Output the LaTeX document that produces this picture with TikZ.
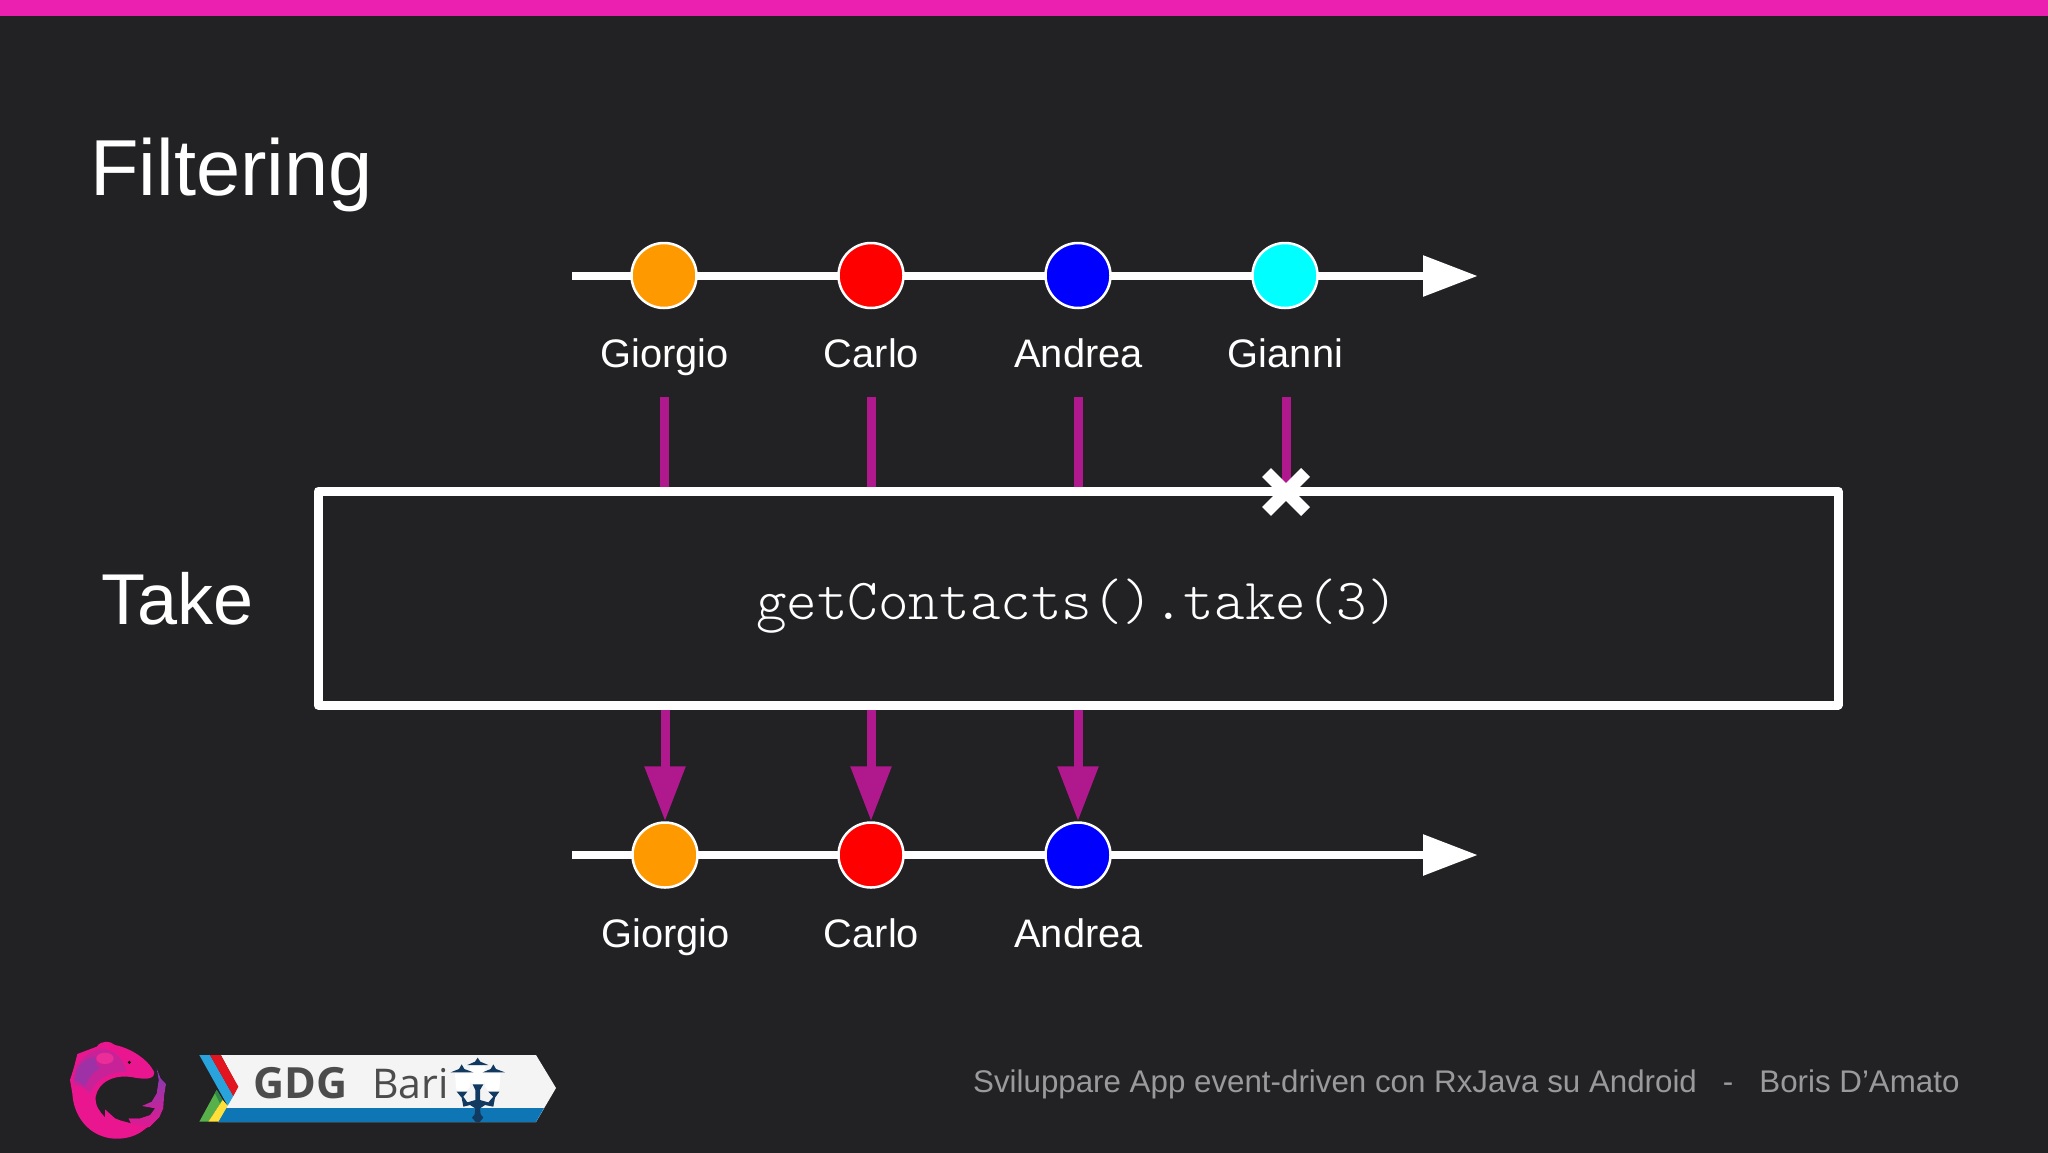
\documentclass[tikz,border=0pt]{standalone}
\usepackage{fontspec}
\setmainfont{Liberation Sans}
\newfontfamily\badgefont{Open Sans}
\usetikzlibrary{arrows.meta,shapes.misc}
\definecolor{slidebg}{HTML}{222124}
\definecolor{slidebar}{HTML}{EB1FB0}
\definecolor{feedpink}{HTML}{B0188E}
\definecolor{footgrey}{HTML}{9A9A9C}
\definecolor{itemorange}{HTML}{FF9900}
\definecolor{itemcyan}{HTML}{00FFFF}
\definecolor{eelpink}{HTML}{E9168F}
\definecolor{eelpurple}{HTML}{7C3FB0}
\definecolor{lampnavy}{HTML}{12395F}
\definecolor{badgeblue}{HTML}{0F76B5}
\definecolor{badgesky}{HTML}{29A3DC}
\definecolor{badgered}{HTML}{E2141F}
\definecolor{badgegreen}{HTML}{57B04A}
\definecolor{badgedark}{HTML}{2E8B47}
\definecolor{badgeyellow}{HTML}{FFE03A}
\tikzset{
	timeline/.style={line width=4.4pt,white,-{Triangle[length=27.5pt,width=19.5pt]}},
	feed/.style={line width=4.5pt,feedpink},
	feedtip/.style={feed,-{Triangle[length=27.5pt,width=19.5pt]}},
	item/.style={circle,draw=white,line width=1.25pt,inner sep=0pt,minimum size=32.5pt},
	namelabel/.style={white,anchor=base,font=\fontsize{19.9}{24}\selectfont},
}

\begin{document}
\begin{tikzpicture}[x=0.5pt,y=-0.5pt]
		\useasboundingbox (0, 0) rectangle (2048, 1152);
		%%%%% SLIDE %%%%%
		\fill[slidebg] (-6, -6) rectangle (2054, 1158);
		\fill[slidebar] (-6, -6) rectangle (2054, 16);
		
		\node[white, anchor=base west, inner sep=0pt, font=\fontsize{39.7}{44}\selectfont] (title) at (90, 195) {Filtering};
		\node[white, anchor=base west, inner sep=0pt, font=\fontsize{36}{40}\selectfont] (opname) at (101, 624) {Take};
		
		%%%%% TOP ROW %%%%%
		\coordinate (topstart) at (572, 276);
		\coordinate (topend) at (1478, 276);
		\draw[timeline] (topstart) -- (topend);
		\node[item, fill=itemorange] (giorgiotop) at (664, 275.5) {};
		\node[item, fill=red] (carlotop) at (871, 275.5) {};
		\node[item, fill=blue] (andreatop) at (1078, 275.5) {};
		\node[item, fill=itemcyan] (giannitop) at (1285, 275.5) {};
		\node[namelabel] (giorgioname) at (664.5, 367.5) {Giorgio};
		\node[namelabel] (carloname) at (871.5, 367.5) {Carlo};
		\node[namelabel] (andreaname) at (1078.5, 367.5) {Andrea};
		\node[namelabel] (gianniname) at (1285.5, 367.5) {Gianni};
		
		%%%%% OPERATOR %%%%%
		\node[draw=white, line width=4.5pt, line join=round, minimum width=760pt, minimum height=107pt] (opbox) at (1078, 598) {};
		\node[white, anchor=base, inner sep=0pt, font=\fontsize{29.1}{32}\fontseries{l}\ttfamily] (opcode) at (1077, 619) {getContacts().take(3)};
		
		\coordinate (stubgiorgio) at (664, 397);
		\coordinate (stubcarlo) at (871, 397);
		\coordinate (stubandrea) at (1078, 397);
		\coordinate (stubgianni) at (1286, 397);
		\coordinate (stopat) at (1286, 492);
		\draw[feed] (stubgiorgio) -- (stubgiorgio |- opbox.north);
		\draw[feed] (stubcarlo) -- (stubcarlo |- opbox.north);
		\draw[feed] (stubandrea) -- (stubandrea |- opbox.north);
		\draw[feed] (stubgianni) -- (stopat);
		\node[cross out, draw=white, line width=6.25pt, inner sep=0pt, minimum size=13.25pt] (stop) at (stopat) {};
		
		%%%%% BOTTOM ROW %%%%%
		\coordinate (botstart) at (572, 855);
		\coordinate (botend) at (1478, 855);
		\draw[timeline] (botstart) -- (botend);
		\node[item, fill=itemorange] (giorgiobot) at (665, 855) {};
		\node[item, fill=red] (carlobot) at (871, 855) {};
		\node[item, fill=blue] (andreabot) at (1078, 855) {};
		\node[namelabel] (giorgioout) at (665.5, 947.5) {Giorgio};
		\node[namelabel] (carloout) at (871.5, 947.5) {Carlo};
		\node[namelabel] (andreaout) at (1078.5, 947.5) {Andrea};
		\draw[feedtip] (opbox.south -| giorgiobot) -- (giorgiobot);
		\draw[feedtip] (opbox.south -| carlobot) -- (carlobot);
		\draw[feedtip] (opbox.south -| andreabot) -- (andreabot);
		
		%%%%% FOOTER %%%%%
		\node[footgrey, anchor=base east, inner sep=0pt, font=\fontsize{15.65}{18}\selectfont] (footer) at (1960, 1092) {Sviluppare App event-driven con RxJava su Android~~~-~~~Boris D’Amato};
		
		%%%%% RX LOGO %%%%%
		\begin{scope}[shift={(60, 1030)}, scale=1/3]
			\fill[top color=eelpurple, middle color=eelpurple!75!eelpink, bottom color=eelpink] (290, 115) -- (302, 145) -- (318, 162) -- (312, 200) -- (310, 235) -- (298, 262) -- (270, 290) -- (225, 305) -- (205, 265) -- (240, 265) -- (270, 255) -- (285, 235) -- (245, 228) -- (275, 215) -- (290, 190) -- (296, 150) -- cycle;
			\fill[eelpink] (110, 50) .. controls (125, 30) and (150, 32) .. (165, 45) .. controls (215, 55) and (265, 90) .. (282, 125) .. controls (285, 145) and (265, 150) .. (225, 143) .. controls (165, 130) and (115, 155) .. (107, 200) .. controls (105, 230) and (120, 245) .. (135, 262) -- (135, 238) -- (165, 265) .. controls (185, 275) and (205, 275) .. (225, 285) -- (262, 290) .. controls (230, 325) and (170, 335) .. (125, 318) .. controls (75, 300) and (40, 250) .. (37, 190) -- (30, 150) -- (42, 112) -- (52, 72) -- cycle;
			\fill[eelpurple, opacity=0.3] (40, 165) -- (44, 120) .. controls (60, 85) and (90, 62) .. (125, 55) .. controls (165, 60) and (190, 85) .. (200, 125) .. controls (150, 125) and (110, 145) .. (90, 190) .. controls (72, 170) and (55, 165) .. cycle;
			\fill[eelpurple, opacity=0.55] (44, 150) -- (52, 115) .. controls (65, 95) and (85, 82) .. (105, 80) .. controls (108, 100) and (112, 110) .. (120, 115) .. controls (100, 125) and (85, 145) .. (75, 170) .. controls (65, 160) and (55, 155) .. cycle;
			\fill[eelpink!90!white] (135, 85) ellipse (26 and 17);
			\fill[black] (208, 97) circle (5);
		\end{scope}
		
		%%%%% BADGE %%%%%
		\fill[white!95!slidebg] (221, 1055) -- (536, 1055) -- (556, 1088) -- (536, 1122) -- (218, 1122) -- (238, 1087) -- cycle;
		\fill[badgeblue] (226, 1108) -- (544, 1108) -- (536, 1122) -- (218, 1122) -- cycle;
		\begin{scope}[shift={(190, 1045)}, scale=1/3]
			\fill[badgesky] (28, 30) -- (60, 30) -- (130, 153) -- (113, 182) -- cycle;
			\fill[badgered] (60, 30) -- (92, 30) -- (145, 125) -- (130, 153) -- cycle;
			\fill[badgegreen] (28, 230) -- (80, 135) -- (98, 165) -- (55, 230) -- cycle;
			\fill[badgedark] (75, 145) -- (80, 135) -- (98, 165) -- (90, 175) -- cycle;
			\fill[badgeyellow] (55, 230) -- (98, 165) -- (113, 182) -- (85, 230) -- cycle;
		\end{scope}
		\node[anchor=base west, inner sep=0pt, text=black!70, font=\badgefont\bfseries\fontsize{21.5}{24}\selectfont] (gdgname) at (253, 1098) {GDG};
		\node[anchor=base west, inner sep=0pt, text=black!70, font=\badgefont\fontsize{20.5}{24}\selectfont] (bariname) at (372, 1098) {Bari};
		
		%%%%% LAMP %%%%%
		\begin{scope}[shift={(430, 1045)}, scale=1/3]
			\fill[white] (75, 85) -- (120, 85) -- (120, 125) -- (108, 140) -- (85, 140) -- (78, 130) -- cycle;
			\fill[white] (165, 85) -- (212, 85) -- (208, 130) -- (200, 140) -- (178, 140) -- (165, 125) -- cycle;
			\fill[white] (120, 62) -- (166, 62) -- (166, 110) -- (158, 118) -- (128, 118) -- (120, 110) -- cycle;
			\fill[lampnavy] (112, 60) -- (135, 50) -- (143, 38) -- (151, 50) -- (175, 60) -- cycle;
			\fill[lampnavy] (62, 82) -- (87, 72) -- (95, 58) -- (103, 72) -- (130, 82) -- cycle;
			\fill[lampnavy] (158, 82) -- (182, 72) -- (190, 58) -- (198, 72) -- (225, 82) -- cycle;
			\fill[lampnavy] (128, 118) -- (160, 118) -- (150, 135) -- (150, 165) -- (175, 172) -- (190, 155) -- (175, 140) -- (208, 140) -- (195, 158) -- (190, 185) -- (165, 180) -- (150, 190) -- (152, 208) -- (160, 218) -- (148, 232) -- (138, 232) -- (126, 218) -- (134, 208) -- (136, 190) -- (120, 180) -- (100, 185) -- (95, 158) -- (80, 140) -- (112, 140) -- (100, 155) -- (112, 172) -- (136, 165) -- (136, 135) -- cycle;
		\end{scope}
		%%%%% END %%%%%
	\end{tikzpicture}
\end{document}
